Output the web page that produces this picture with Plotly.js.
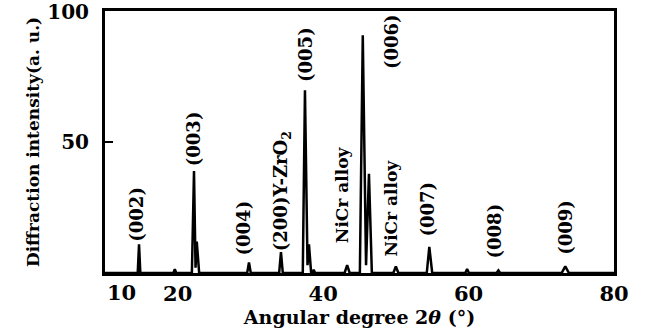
<!DOCTYPE html>
<html>
<head>
<meta charset="utf-8">
<script src="https://cdn.plot.ly/plotly-3.0.1.min.js"></script>
<style>
html,body{margin:0;padding:0;background:#fff;}
#chart{width:646px;height:331px;}
</style>
</head>
<body>
<div id="chart"></div>
<script>
// Diffraction pattern (2θ in degrees, intensity in a.u.)
const angle = [10, 14.5, 14.68, 14.86, 19.4, 19.6, 19.8, 21.95, 22.24, 22.45, 22.62, 22.95,
  29.55, 29.8, 30.05, 33.95, 34.2, 34.45, 37.2, 37.5, 37.85, 38.05, 38.35, 38.5, 38.7, 38.9,
  42.95, 43.3, 43.65, 45.05, 45.45, 45.9, 46.3, 46.7, 49.65, 50.0, 50.35, 54.25, 54.6, 55.0,
  59.55, 59.8, 60.05, 63.85, 64.1, 64.35, 72.8, 73.3, 73.8, 80];
const intensity = [0, 0, 11, 0, 0, 1.5, 0, 0, 39, 2, 12, 0,
  0, 4, 0, 0, 8, 0, 0, 70, 3, 11, 0, 0, 1.2, 0,
  0, 3, 0, 0, 91, 3, 38, 0, 0, 2.5, 0, 0, 10, 0,
  0, 1.5, 0, 0, 1, 0, 0, 2.5, 0, 0];

// Peak labels
const labelText = ["(002)", "(003)", "(004)", "(200)Y-ZrO<sub>2</sub>", "(005)", "NiCr alloy",
  "(006)", "NiCr alloy", "(007)", "(008)", "(009)"];
const labelAngle = [14.4, 22.1, 29.1, 34.35, 37.65, 42.5, 49.5, 49.3, 54.4, 63.6, 73.3];
const labelIntensity = [11.4, 40.3, 6.1, 7.6, 72.2, 10.6, 77.2, 5.7, 13.3, 4.9, 6.1];

// Axis ticks
const xTickVals = [20, 40, 60, 80];
const xTickText = ["20", "40", "60", "80"];
const xFirstTick = {value: 10, text: "10"};
const yTickVals = [50, 100];
const yTickText = ["50", "100"];

const FONT = "DejaVu Serif, Liberation Serif, serif";

const annotations = labelText.map((t, i) => ({
  x: labelAngle[i], y: labelIntensity[i], xref: "x", yref: "y",
  text: "<b>" + t + "</b>", showarrow: false, textangle: -90,
  xanchor: "center", yanchor: "bottom",
  font: {family: FONT, size: t.indexOf("NiCr") === 0 ? 17 : 18, color: "#000"}
}));
annotations.push({
  x: xFirstTick.value, y: 0, xref: "x", yref: "paper", text: "<b>" + xFirstTick.text + "</b>",
  showarrow: false, xanchor: "left", yanchor: "top", yshift: -5,
  font: {family: FONT, size: 21, color: "#000"}
});

const trace = {
  x: angle, y: intensity, type: "scatter", mode: "lines",
  line: {color: "#000", width: 2.5}, hoverinfo: "skip"
};

const layout = {
  width: 646, height: 331,
  margin: {l: 105, r: 32, t: 11, b: 58},
  paper_bgcolor: "#fff", plot_bgcolor: "#fff",
  showlegend: false,
  font: {family: FONT, color: "#000"},
  xaxis: {
    range: [10, 80], showgrid: false, zeroline: false,
    showline: true, linecolor: "#000", linewidth: 3, mirror: true,
    tickmode: "array", tickvals: xTickVals, ticktext: xTickText.map(s => "<b>" + s + "</b>"),
    ticks: "", tickfont: {family: FONT, size: 21, color: "#000"},
    title: {text: "<b>Angular degree 2<i>θ</i> (°)</b>", font: {family: FONT, size: 19, color: "#000"}, standoff: 0}
  },
  yaxis: {
    range: [0, 100.3], showgrid: false, zeroline: false,
    showline: true, linecolor: "#000", linewidth: 3, mirror: true,
    tickmode: "array", tickvals: yTickVals, ticktext: yTickText.map(s => "<b>" + s + "</b>"),
    ticks: "inside", ticklen: 8, tickwidth: 2, tickcolor: "#000", ticklabelstandoff: 9,
    ticklabeloverflow: "allow",
    tickfont: {family: FONT, size: 20, color: "#000"},
    title: {text: "<b>Diffraction intensity(a. u.)</b>", font: {family: FONT, size: 17, color: "#000"}, standoff: 4}
  },
  annotations: annotations
};

Plotly.newPlot("chart", [trace], layout, {staticPlot: true, displayModeBar: false});
</script>
</body>
</html>
